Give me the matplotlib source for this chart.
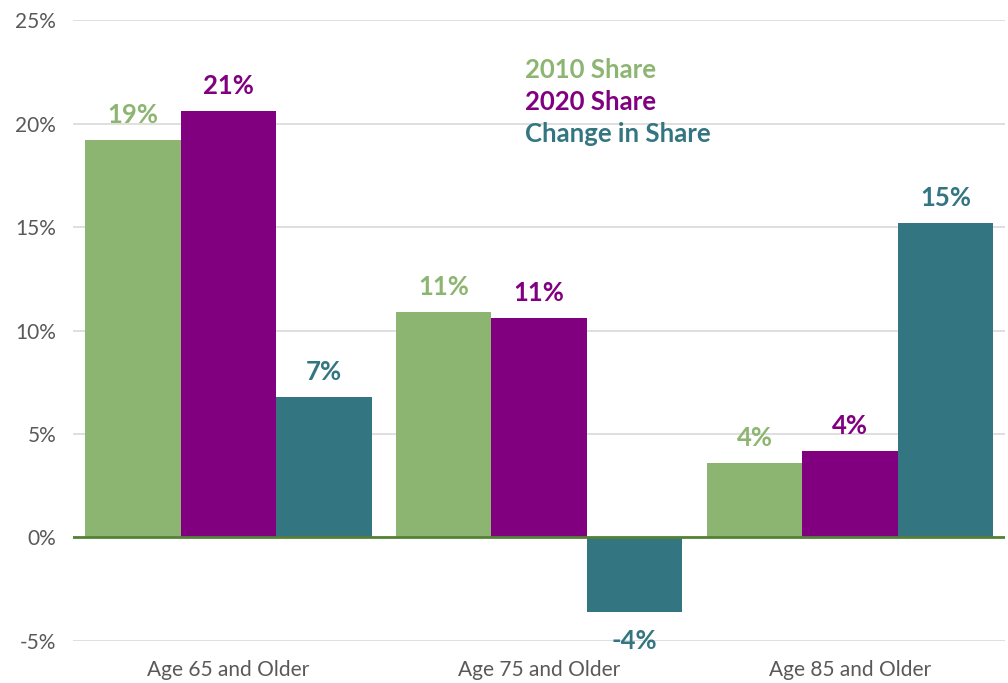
import numpy as np
import matplotlib
matplotlib.use("Agg")
import matplotlib.pyplot as plt

categories = ["Age 65 and Older", "Age 75 and Older", "Age 85 and Older"]
series_names = ["2010 Share", "2020 Share", "Change in Share"]
share_2010 = [19.2, 10.9, 3.6]
share_2020 = [20.6, 10.6, 4.2]
change = [6.8, -3.6, 15.2]
colors = ["#8DB572", "#800080", "#337580"]

plt.rcParams["font.family"] = ["Lato", "DejaVu Sans"]

fig = plt.figure(figsize=(10.08, 6.83), dpi=100)
ax = fig.add_axes([0.0724, 0.0615, 0.925, 0.9092])

x = np.arange(len(categories))
width = 0.307
for i, (vals, col) in enumerate(zip([share_2010, share_2020, change], colors)):
    pos = x + (i - 1) * width
    ax.bar(pos, vals, width, color=col, zorder=2)
    for p, v in zip(pos, vals):
        off = 18 if v >= 0 else -21
        ax.annotate(f"{v:.0f}%", (p, v), xytext=(0, off), textcoords="offset points",
                    ha="center", va="center", fontsize=18.5, fontweight="bold", color=col)

ax.set_xlim(-0.5, 2.5)
ax.set_ylim(-5, 25)
ax.set_yticks(np.arange(-5, 26, 5))
ax.set_yticklabels([f"{t}%" for t in range(-5, 26, 5)])
ax.set_xticks(x)
ax.set_xticklabels(categories)
ax.tick_params(axis="both", length=0, colors="#595959")
ax.tick_params(axis="y", pad=12, labelsize=15)
ax.tick_params(axis="x", pad=14, labelsize=15)
ax.grid(axis="y", color="#D9D9D9", linewidth=1.2, zorder=0)
ax.axhline(0, color="#548235", linewidth=2, zorder=3)
for s in ax.spines.values():
    s.set_visible(False)

# legend drawn as coloured text
for k, (name, col) in enumerate(zip(series_names, colors)):
    ax.text(0.485, 0.920 - k * 0.0515, name, transform=ax.transAxes, color=col,
            fontsize=18.5, fontweight="bold", ha="left", va="center")

fig.savefig("out.png", dpi=100)
